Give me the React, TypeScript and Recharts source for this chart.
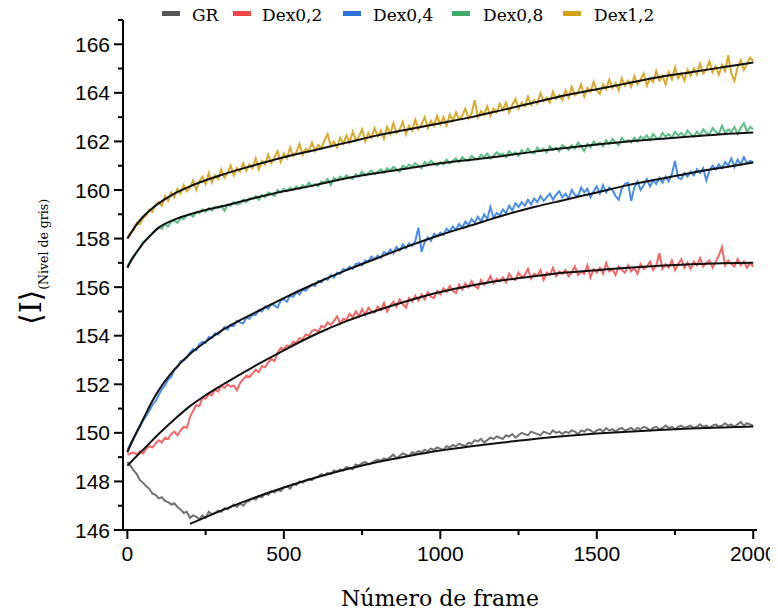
import React from 'react';
import { LineChart, Line, XAxis, YAxis } from 'recharts';

const frames = [
  0, 10, 20, 30, 40, 50, 60, 70, 80, 90, 100, 110, 120, 130, 140, 150, 160, 170, 180, 190,
  200, 210, 220, 230, 240, 250, 260, 270, 280, 290, 300, 310, 320, 330, 340, 350, 360, 370, 380, 390,
  400, 410, 420, 430, 440, 450, 460, 470, 480, 490, 500, 510, 520, 530, 540, 550, 560, 570, 580, 590,
  600, 610, 620, 630, 640, 650, 660, 670, 680, 690, 700, 710, 720, 730, 740, 750, 760, 770, 780, 790,
  800, 810, 820, 830, 840, 850, 860, 870, 880, 890, 900, 910, 920, 930, 940, 950, 960, 970, 980, 990,
  1000, 1010, 1020, 1030, 1040, 1050, 1060, 1070, 1080, 1090, 1100, 1110, 1120, 1130, 1140, 1150, 1160, 1170, 1180, 1190,
  1200, 1210, 1220, 1230, 1240, 1250, 1260, 1270, 1280, 1290, 1300, 1310, 1320, 1330, 1340, 1350, 1360, 1370, 1380, 1390,
  1400, 1410, 1420, 1430, 1440, 1450, 1460, 1470, 1480, 1490, 1500, 1510, 1520, 1530, 1540, 1550, 1560, 1570, 1580, 1590,
  1600, 1610, 1620, 1630, 1640, 1650, 1660, 1670, 1680, 1690, 1700, 1710, 1720, 1730, 1740, 1750, 1760, 1770, 1780, 1790,
  1800, 1810, 1820, 1830, 1840, 1850, 1860, 1870, 1880, 1890, 1900, 1910, 1920, 1930, 1940, 1950, 1960, 1970, 1980, 1990,
  2000,
];

const grValues = [
  148.8, 148.65, 148.45, 148.3, 148.05, 147.95, 147.8, 147.7, 147.5, 147.45, 147.3, 147.35, 147.2, 147.15, 147.05, 147.1, 146.95, 146.85, 146.7, 146.75,
  146.5, 146.6, 146.55, 146.45, 146.6, 146.5, 146.75, 146.65, 146.7, 146.8, 146.75, 146.9, 146.85, 146.95, 147.05, 146.95, 147.1, 147.0, 147.15, 147.2,
  147.3, 147.25, 147.4, 147.35, 147.5, 147.45, 147.6, 147.55, 147.65, 147.6, 147.75, 147.8, 147.7, 147.9, 147.85, 148.0, 147.95, 148.05, 148.1, 148.05,
  148.15, 148.2, 148.3, 148.25, 148.35, 148.3, 148.45, 148.4, 148.5, 148.45, 148.6, 148.55, 148.5, 148.7, 148.65, 148.75, 148.8, 148.7, 148.75, 148.85,
  148.9, 148.85, 148.95, 148.9, 149.0, 149.1, 148.95, 149.05, 149.15, 149.1, 149.05, 149.2, 149.15, 149.25, 149.2, 149.3, 149.25, 149.35, 149.3, 149.4,
  149.35, 149.3, 149.45, 149.4, 149.5, 149.45, 149.55, 149.5, 149.45, 149.6, 149.55, 149.7, 149.65, 149.75, 149.6, 149.7, 149.8, 149.75, 149.85, 149.8,
  149.75, 149.9, 149.85, 149.95, 149.8, 149.9, 150.0, 149.95, 149.9, 150.05, 150.0, 149.95, 149.9, 150.05, 150.0, 149.95, 150.1, 150.0, 150.05, 149.95,
  150.05, 150.0, 150.1, 150.05, 149.95, 150.1, 150.05, 150.15, 150.1, 150.0, 150.1, 150.15, 150.05, 150.2, 150.1, 150.15, 150.05, 150.15, 150.2, 150.1,
  150.15, 150.2, 150.1, 150.2, 150.15, 150.25, 150.2, 150.1, 150.2, 150.25, 150.15, 150.2, 150.3, 150.2, 150.25, 150.15, 150.25, 150.3, 150.2, 150.25,
  150.3, 150.2, 150.25, 150.35, 150.25, 150.3, 150.2, 150.3, 150.35, 150.25, 150.3, 150.4, 150.3, 150.35, 150.25, 150.35, 150.45, 150.3, 150.4, 150.35,
  150.3,
];

const dex02Values = [
  149.1, 149.15, 149.2, 149.1, 149.25, 149.15, 149.35, 149.45, 149.4, 149.55, 149.7, 149.6, 149.8, 149.75, 149.95, 150.05, 149.9, 150.1, 150.25, 150.2,
  150.65, 150.9, 151.15, 151.1, 151.45, 151.4, 151.6, 151.55, 151.8, 151.7, 151.95, 151.85, 152.0, 151.9, 151.95, 151.75, 152.05, 152.2, 152.35, 152.3,
  152.45, 152.6, 152.5, 152.75, 152.7, 152.9, 153.05, 152.95, 153.3, 153.5, 153.45, 153.6, 153.55, 153.75, 153.7, 153.9, 153.85, 154.05, 154.0, 154.2,
  154.25, 154.15, 154.4, 154.35, 154.55, 154.45, 154.6, 154.8, 154.5, 154.7, 154.65, 154.9, 154.75, 155.0, 154.8, 155.1, 154.85, 155.15, 155.0, 154.95,
  155.2, 155.05, 155.35, 155.0, 155.25, 155.4, 155.2, 155.5, 155.3, 155.15, 155.55, 155.4, 155.65, 155.45, 155.7, 155.5, 155.8, 155.6, 155.55, 155.85,
  155.7, 155.95, 155.8, 156.05, 155.85, 155.75, 156.1, 155.9, 156.15, 156.0, 156.25, 156.05, 155.95, 156.3, 156.1, 156.2, 156.45, 156.15, 156.35, 156.25,
  156.4, 156.2, 156.55, 156.35, 156.3, 156.6, 156.4, 156.5, 156.75, 156.35, 156.55, 156.45, 156.7, 156.3, 156.6, 156.5, 156.8, 156.45, 156.65, 156.55,
  156.7, 156.45, 156.6, 156.85, 156.5, 156.65, 156.55, 156.9, 156.4, 156.75, 156.6, 156.8, 156.55, 157.0, 156.65, 156.75, 156.5, 156.85, 156.7, 156.6,
  156.9, 156.65, 156.8, 156.55, 156.95, 156.75, 156.85, 157.05, 156.7, 156.9, 157.4, 156.75, 156.95, 156.8, 157.1, 156.7, 156.95, 157.15, 156.8, 157.0,
  156.75, 157.05, 156.9, 157.2, 156.85, 157.0, 157.1, 156.8, 157.05, 157.3, 157.65, 156.9, 157.1, 156.95, 156.85, 157.15, 156.9, 157.05, 156.8, 157.0,
  156.85,
];

const dex04Values = [
  149.3, 149.55, 149.8, 150.05, 150.25, 150.5, 150.7, 150.9, 151.15, 151.3, 151.55, 151.8, 151.95, 152.2, 152.3, 152.6, 152.7, 152.95, 153.0, 153.1,
  153.3, 153.45, 153.4, 153.65, 153.75, 153.7, 153.95, 153.9, 154.1, 154.05, 154.2, 154.35, 154.25, 154.45, 154.4, 154.6, 154.55, 154.5, 154.75, 154.7,
  154.9, 154.85, 155.05, 155.0, 155.2, 155.1, 155.3, 155.25, 155.15, 155.45, 155.5, 155.4, 155.65, 155.6, 155.8, 155.7, 155.9, 155.85, 156.0, 156.1,
  156.05, 156.25, 156.2, 156.35, 156.3, 156.5, 156.4, 156.6, 156.55, 156.75, 156.7, 156.85, 156.75, 156.95, 157.0, 156.9, 157.1, 157.05, 157.25, 157.15,
  157.3, 157.2, 157.45, 157.35, 157.55, 157.4, 157.65, 157.5, 157.75, 157.6, 157.8, 157.7, 157.9, 158.45, 157.45, 157.85, 158.05, 157.9, 158.2, 158.1,
  158.25, 158.15, 158.4, 158.3, 158.5, 158.35, 158.6, 158.45, 158.7, 158.55, 158.8, 158.65, 158.9, 158.7, 159.0, 158.8, 159.3, 158.85, 159.05, 158.95,
  159.2, 159.05, 159.35, 159.15, 159.45, 159.3, 159.5, 159.35, 159.6, 159.4, 159.65, 159.5, 159.75, 159.55, 159.7, 159.85, 159.6, 159.8, 159.95, 159.7,
  159.85, 159.65, 160.0, 159.8, 159.75, 160.1, 159.9, 160.05, 159.7, 159.95, 160.15, 159.85, 160.2, 159.9, 160.1, 160.0, 159.75, 159.6, 160.05, 160.25,
  160.3, 159.55, 160.1, 160.35, 160.0, 160.2, 160.45, 160.15, 160.4, 160.25, 160.5, 160.3, 160.55, 160.35, 160.65, 161.2, 160.5, 160.45, 160.7, 160.55,
  160.75, 160.6, 160.85, 160.7, 160.9, 160.4, 160.8, 161.0, 160.85, 161.05, 160.9, 161.15, 161.0, 161.3, 160.95, 161.25, 161.05, 161.35, 161.1, 161.2,
  161.15,
];

const dex08Values = [
  156.85, 157.1, 157.3, 157.45, 157.6, 157.85, 157.95, 158.1, 158.2, 158.35, 158.45, 158.4, 158.6, 158.5, 158.7, 158.75, 158.65, 158.85, 158.8, 158.95,
  159.0, 158.9, 159.1, 159.05, 159.2, 159.1, 159.25, 159.15, 159.3, 159.25, 159.35, 159.15, 159.4, 159.35, 159.5, 159.4, 159.45, 159.6, 159.5, 159.65,
  159.65, 159.75, 159.6, 159.8, 159.7, 159.9, 159.85, 159.75, 160.0, 159.9, 160.05, 159.95, 160.1, 160.0, 160.15, 160.05, 160.2, 160.1, 160.3, 160.15,
  160.25, 160.15, 160.35, 160.3, 160.45, 160.2, 160.5, 160.4, 160.55, 160.45, 160.6, 160.5, 160.45, 160.65, 160.55, 160.75, 160.6, 160.7, 160.8, 160.65,
  160.75, 160.85, 160.7, 160.9, 160.8, 160.95, 160.85, 160.75, 161.0, 160.9, 161.05, 160.95, 161.1, 161.0, 160.9, 161.15, 161.05, 161.2, 161.1, 161.0,
  161.15, 161.05, 161.25, 161.1, 161.2, 161.3, 161.15, 161.35, 161.25, 161.2, 161.4, 161.3, 161.25, 161.45, 161.35, 161.5, 161.3, 161.4, 161.55, 161.45,
  161.5, 161.35, 161.6, 161.45, 161.55, 161.4, 161.65, 161.5, 161.7, 161.55, 161.5, 161.75, 161.6, 161.7, 161.55, 161.8, 161.65, 161.75, 161.6, 161.85,
  161.75, 161.65, 161.85, 161.7, 161.95, 161.8, 161.6, 161.9, 161.75, 162.0, 161.85, 161.95, 161.8, 162.05, 161.9, 162.1, 161.95, 161.85, 162.15, 162.0,
  162.05, 161.95, 162.15, 162.0, 162.2, 162.1, 162.25, 162.05, 162.3, 162.15, 162.1, 162.35, 162.2, 162.3, 162.15, 162.4, 162.25, 162.35, 162.2, 162.45,
  162.3, 162.2, 162.4, 162.25, 162.5, 162.35, 162.3, 162.55, 162.4, 162.3, 162.65, 162.35, 162.5, 162.4, 162.6, 162.3, 162.55, 162.75, 162.4, 162.6,
  162.5,
];

const dex12Values = [
  158.0, 158.25, 158.35, 158.65, 158.6, 158.85, 158.95, 159.2, 159.1, 159.4, 159.5, 159.35, 159.75, 159.55, 159.9, 159.7, 160.05, 159.85, 160.2, 159.95,
  160.1, 160.4, 160.0, 160.35, 160.55, 160.25, 160.7, 160.3, 160.6, 160.45, 160.85, 160.5, 160.7, 161.0, 160.6, 160.9, 160.75, 161.1, 160.8, 161.05,
  160.9, 161.3, 160.85, 161.2, 161.05, 161.45, 161.1, 161.35, 161.6, 161.15, 161.5, 161.3, 161.75, 161.4, 161.55, 161.9, 161.45, 161.7, 161.6, 161.95,
  161.6, 161.85, 161.7, 162.05, 162.3, 161.8, 162.0, 161.75, 162.15, 161.9, 162.25, 161.95, 162.4, 162.05, 162.2, 162.5, 162.0, 162.35, 162.15, 162.55,
  162.2, 162.45, 162.1, 162.6, 162.3, 162.75, 162.35, 162.5, 162.8, 162.3, 162.65, 162.45, 162.9, 162.5, 162.7, 163.0, 162.55, 162.85, 162.65, 163.05,
  162.7, 163.0, 162.65, 163.1, 162.85, 163.2, 162.9, 163.05, 163.35, 162.95, 163.15, 163.7, 163.0, 163.25, 163.1, 163.45, 163.05, 163.35, 163.2, 163.55,
  163.3, 163.6, 163.2, 163.5, 163.75, 163.35, 163.6, 163.45, 163.85, 163.5, 163.7, 163.55, 164.0, 163.65, 163.8, 163.6, 164.05, 163.75, 163.9, 163.7,
  164.1, 163.8, 164.25, 163.9, 164.0, 164.35, 163.85, 164.2, 164.05, 164.45, 164.1, 163.95, 164.35, 164.15, 164.55, 164.2, 164.4, 164.1, 164.6, 164.3,
  164.5, 164.25, 164.7, 164.35, 164.55, 164.8, 164.3, 164.6, 164.45, 164.9, 164.5, 164.7, 164.35, 164.85, 164.55, 165.05, 164.6, 164.8, 164.5, 164.95,
  164.7, 165.0, 164.75, 165.2, 164.8, 164.95, 165.3, 164.85, 165.1, 164.75, 165.15, 164.9, 165.55, 164.8, 164.5, 165.05, 165.35, 164.95, 165.2, 165.45,
  165.3,
];

const fitFrames = [0, 10, 25, 50, 75, 100, 150, 200, 250, 300, 400, 500, 600, 700, 800, 900, 1000, 1100, 1200, 1300, 1400, 1500, 1600, 1700, 1800, 1900, 2000];
const dex02Fit = [148.65, 148.78, 148.98, 149.3, 149.63, 149.95, 150.55, 151.1, 151.55, 151.95, 152.7, 153.4, 154.05, 154.6, 155.05, 155.45, 155.8, 156.07, 156.28, 156.45, 156.6, 156.7, 156.8, 156.88, 156.94, 156.98, 157.0];
const dex04Fit = [149.2, 149.5, 149.9, 150.55, 151.2, 151.75, 152.6, 153.25, 153.75, 154.2, 154.9, 155.55, 156.15, 156.7, 157.2, 157.7, 158.15, 158.55, 158.95, 159.3, 159.6, 159.9, 160.2, 160.45, 160.7, 160.92, 161.13];
const dex08Fit = [156.8, 157.05, 157.35, 157.8, 158.15, 158.45, 158.78, 159.0, 159.18, 159.32, 159.65, 159.95, 160.2, 160.48, 160.7, 160.9, 161.1, 161.25, 161.4, 161.58, 161.73, 161.87, 162.0, 162.1, 162.2, 162.3, 162.37];
const dex12Fit = [158.0, 158.2, 158.5, 158.9, 159.2, 159.45, 159.85, 160.15, 160.4, 160.62, 161.0, 161.35, 161.65, 161.95, 162.25, 162.5, 162.75, 163.0, 163.3, 163.6, 163.9, 164.15, 164.4, 164.65, 164.85, 165.05, 165.25];
const grFitFrames = [200, 300, 400, 500, 600, 700, 800, 900, 1000, 1100, 1200, 1300, 1400, 1500, 1600, 1700, 1800, 1900, 2000];
const grFit = [146.25, 146.8, 147.3, 147.75, 148.15, 148.5, 148.8, 149.05, 149.27, 149.45, 149.6, 149.75, 149.87, 149.97, 150.05, 150.12, 150.18, 150.22, 150.26];

const seriesNames = ['GR', 'Dex0,2', 'Dex0,4', 'Dex0,8', 'Dex1,2'];
const lineColors = ['#737373', '#F76666', '#4A8DEB', '#5BBE86', '#DAAA2E'];
const legendColors = ['#555555', '#F04848', '#2B72DB', '#3DAA6A', '#D4A418'];

const yTicks = [146, 147, 148, 149, 150, 151, 152, 153, 154, 155, 156, 157, 158, 159, 160, 161, 162, 163, 164, 165, 166, 167];
const xTicks = [0, 250, 500, 750, 1000, 1250, 1500, 1750, 2000];

const toPoints = (xs: number[], ys: number[]) => xs.map((x, i) => ({ frame: x, value: ys[i] }));

const dataSeries = [grValues, dex02Values, dex04Values, dex08Values, dex12Values].map((v) => toPoints(frames, v));
const fitSeries = [
  toPoints(grFitFrames, grFit),
  toPoints(fitFrames, dex02Fit),
  toPoints(fitFrames, dex04Fit),
  toPoints(fitFrames, dex08Fit),
  toPoints(fitFrames, dex12Fit),
];

const tickFont = '"Liberation Sans", Arial, sans-serif';
const serifFont = '"DejaVu Serif", serif';

const YTick = (props: any) => {
  const { x, y, payload } = props;
  const v = payload.value;
  const major = v % 2 === 0 && v <= 166;
  const len = major ? 9 : 5;
  return (
    <g>
      <line x1={x - len} x2={x} y1={y} y2={y} stroke="#000" strokeWidth={2} />
      {major && (
        <text x={x - 13} y={y} dy={7.5} textAnchor="end" fontFamily={tickFont} fontSize={21} fill="#000">
          {v}
        </text>
      )}
    </g>
  );
};

const XTick = (props: any) => {
  const { x, y, payload } = props;
  const v = payload.value;
  const major = v % 500 === 0;
  const len = major ? 9 : 5;
  return (
    <g>
      <line x1={x} x2={x} y1={y} y2={y + len} stroke="#000" strokeWidth={2} />
      {major && (
        <text x={x} y={y + 31} textAnchor="middle" fontFamily={tickFont} fontSize={21} fill="#000">
          {v}
        </text>
      )}
    </g>
  );
};

const XLabel = () => (
  <text x={432} y={598} textAnchor="middle" fontFamily={serifFont} fontSize={22} fill="#000">
    Número de frame
  </text>
);

const YLabel = () => (
  <text transform="translate(33,254) rotate(-90)" textAnchor="middle" fontFamily={serifFont} fill="#000">
    <tspan fontSize={30}>⟨I⟩</tspan>
    <tspan fontSize={12.5} dy={7}>(Nivel de gris)</tspan>
  </text>
);

const legendIconLeft = [154, 225, 335, 444, 555];
const legendTextLeft = [184, 254, 365, 475, 586];

export default function App() {
  return (
    <div style={{ position: 'relative', width: 770, height: 607 }}>
      <LineChart width={770} height={607} margin={{ top: 12, right: 21, left: 0, bottom: 0 }}>
        <XAxis
          type="number"
          dataKey="frame"
          domain={[-14, 2012]}
          ticks={xTicks}
          interval={0}
          allowDataOverflow
          tick={<XTick />}
          tickLine={false}
          tickSize={0}
          tickMargin={0}
          axisLine={{ stroke: '#000', strokeWidth: 2 }}
          height={85}
          label={<XLabel />}
        />
        <YAxis
          type="number"
          dataKey="value"
          domain={[146, 167]}
          ticks={yTicks}
          interval={0}
          allowDataOverflow
          tick={<YTick />}
          tickLine={false}
          tickSize={0}
          tickMargin={0}
          axisLine={{ stroke: '#000', strokeWidth: 2 }}
          width={115}
          label={<YLabel />}
        />
        {dataSeries.map((d, i) => (
          <Line
            key={seriesNames[i]}
            name={seriesNames[i]}
            data={d}
            dataKey="value"
            type="linear"
            stroke={lineColors[i]}
            strokeWidth={2}
            dot={false}
            isAnimationActive={false}
          />
        ))}
        {fitSeries.map((d, i) => (
          <Line
            key={'fit-' + seriesNames[i]}
            name={'fit ' + seriesNames[i]}
            data={d}
            dataKey="value"
            type="monotone"
            stroke="#111"
            strokeWidth={2}
            dot={false}
            isAnimationActive={false}
          />
        ))}
      </LineChart>
      {seriesNames.map((n, i) => (
        <React.Fragment key={n}>
          <div
            style={{
              position: 'absolute',
              left: legendIconLeft[i],
              top: 3,
              width: 18,
              height: 5,
              background: legendColors[i],
            }}
          />
          <div
            style={{
              position: 'absolute',
              left: legendTextLeft[i],
              top: -3,
              fontFamily: serifFont,
              fontSize: 17,
              lineHeight: '20px',
              color: '#000',
              whiteSpace: 'nowrap',
            }}
          >
            {n}
          </div>
        </React.Fragment>
      ))}
    </div>
  );
}
